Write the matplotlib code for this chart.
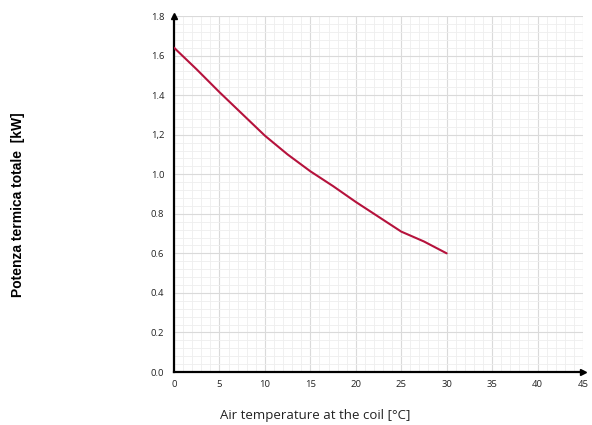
import matplotlib.pyplot as plt
from matplotlib.ticker import MultipleLocator

# air temperature at the coil [°C] vs total thermal power [kW]
temp_c = [0, 2.5, 5, 7.5, 10, 12.5, 15, 17.5, 20, 22.5, 25, 27.5, 30]
power_kw = [1.64, 1.53, 1.415, 1.305, 1.195, 1.10, 1.015, 0.94, 0.86, 0.785, 0.71, 0.66, 0.60]

y_ticks = [0.0, 0.2, 0.4, 0.6, 0.8, 1.0, 1.2, 1.4, 1.6, 1.8]
y_tick_labels = ["0.0", "0.2", "0.4", "0.6", "0.8", "1.0", "1,2", "1.4", "1.6", "1.8"]
x_ticks = [0, 5, 10, 15, 20, 25, 30, 35, 40, 45]

fig = plt.figure(figsize=(5.92, 4.25), dpi=100)
ax = fig.add_axes([0.2939, 0.1247, 0.6909, 0.8376])

ax.plot(temp_c, power_kw, color="#b5123c", lw=1.5, solid_capstyle="round", zorder=3)

ax.set_xlim(0, 45)
ax.set_ylim(0, 1.8)
ax.set_xticks(x_ticks)
ax.set_xticklabels([str(t) for t in x_ticks])
ax.set_yticks(y_ticks)
ax.set_yticklabels(y_tick_labels)
ax.xaxis.set_minor_locator(MultipleLocator(1))
ax.yaxis.set_minor_locator(MultipleLocator(0.04))

ax.grid(which="major", color="#dadada", lw=0.8)
ax.grid(which="minor", color="#eeeeee", lw=0.6)
ax.set_axisbelow(True)

for side in ("top", "right"):
    ax.spines[side].set_visible(False)
for side in ("left", "bottom"):
    ax.spines[side].set_linewidth(1.6)
    ax.spines[side].set_color("black")

ax.tick_params(which="both", length=0)
ax.tick_params(axis="x", pad=6)
ax.tick_params(axis="y", pad=7)
for lbl in ax.get_xticklabels() + ax.get_yticklabels():
    lbl.set_fontfamily("Open Sans")
    lbl.set_fontsize(6.8)
    lbl.set_color("#222222")

# arrow heads on the axes
ax.plot(1, 0, ">k", ms=5, transform=ax.transAxes, clip_on=False)
ax.plot(0, 1, "^k", ms=5, transform=ax.transAxes, clip_on=False)

fig.text(315 / 592, 1 - 415 / 425, "Air temperature at the coil [°C]", ha="center", va="center",
         fontsize=9.5, fontfamily="Open Sans", color="#222222")
fig.text(18 / 592, 1 - 205 / 425, "Potenza termica totale  [kW]", ha="center", va="center",
         rotation=90, fontsize=10, fontweight="bold", fontfamily="Liberation Sans")

fig.savefig("out.png", dpi=100)
